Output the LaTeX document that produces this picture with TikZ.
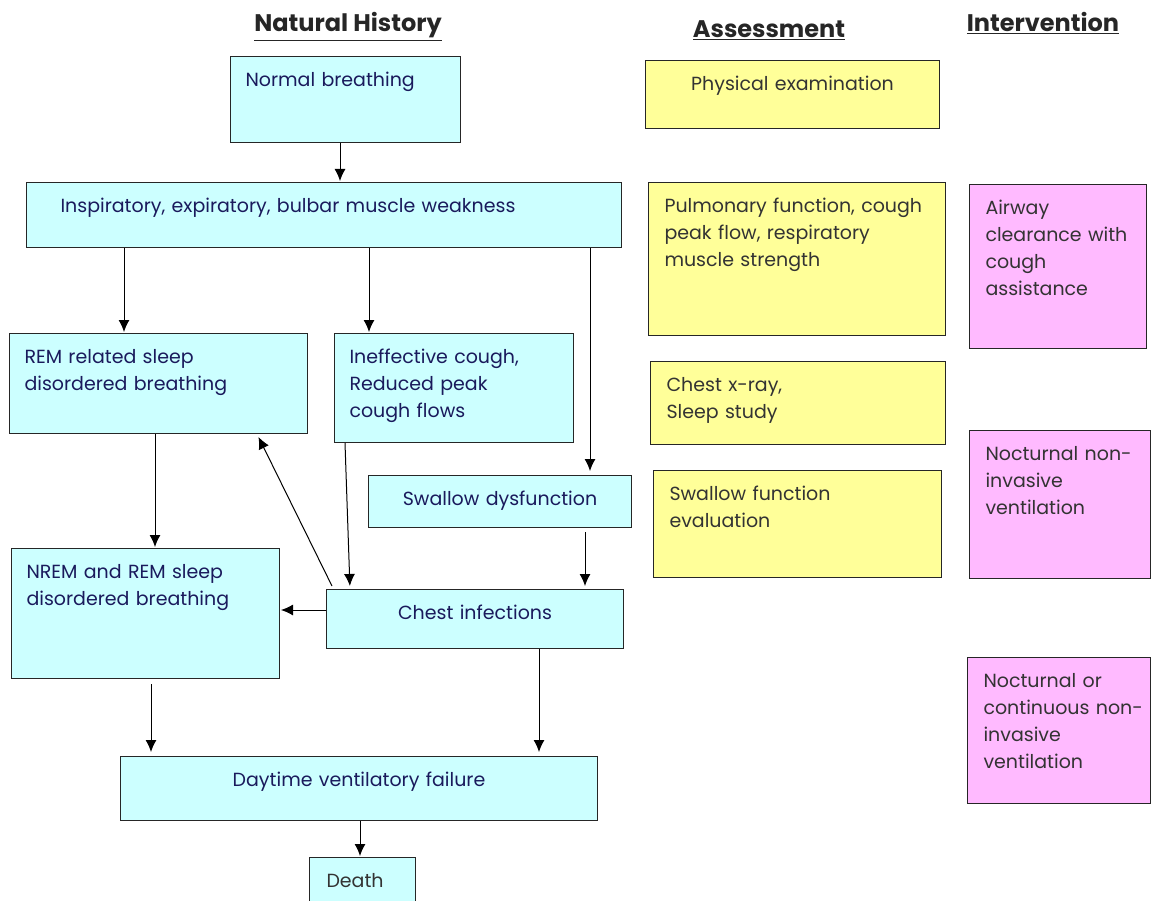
\documentclass[tikz,border=0pt]{standalone}
\usepackage{fontspec}
\setmainfont{Poppins}
\usetikzlibrary{arrows.meta}

\definecolor{cyanbox}{HTML}{CCFFFF}
\definecolor{yellowbox}{HTML}{FFFF99}
\definecolor{pinkbox}{HTML}{FFBAFF}
\definecolor{navytext}{HTML}{1A1A5C}
\definecolor{greytext}{HTML}{333333}

\tikzset{
	box/.style={draw=black!85, line width=1pt, anchor=north west, inner ysep=0pt, inner xsep=15pt,
		text height=30pt, align=left, font=\fontsize{19}{27}\selectfont},
	history/.style={box, fill=cyanbox, text=navytext},
	assess/.style={box, fill=yellowbox, text=greytext},
	interv/.style={box, fill=pinkbox, text=greytext},
	heading/.style={anchor=base, font=\fontsize{24}{28}\selectfont\bfseries, text=black!85},
	arr/.style={line width=1pt, arrows={-{Latex[length=12pt,width=11pt]}}, shorten >=1pt},
}

\begin{document}
\begin{tikzpicture}[x=1pt, y=-1pt]
	\useasboundingbox (0,0) rectangle (1151,901);
	% column headings
	\node[heading] (hnat) at (348,32) {\underline{Natural History}};
	\node[heading] (hass) at (769,38) {\underline{Assessment}};
	\node[heading] (hint) at (1043,32) {\underline{Intervention}};
	% natural history
	\node[history, text width=200pt, text depth=56pt] (normal) at (230,56) {Normal breathing};
	\node[history, inner xsep=34pt, text width=527pt, text depth=35pt] (insp) at (26,182) {Inspiratory, expiratory, bulbar muscle weakness};
	\node[history, text width=268pt, text depth=70pt] (rem) at (9,333) {REM related sleep\\disordered breathing};
	\node[history, text width=209pt, text depth=79pt] (ineff) at (334,333) {Ineffective cough,\\Reduced peak\\cough flows};
	\node[history, align=center, text width=233pt, text depth=22pt] (swal) at (368,475) {Swallow dysfunction};
	\node[history, text width=238pt, text depth=100pt] (nrem) at (11,548) {NREM and REM sleep\\disordered breathing};
	\node[history, align=center, text width=267pt, text depth=29pt] (chest) at (326,589) {Chest infections};
	\node[history, align=center, text width=447pt, text depth=34pt] (day) at (120,756) {Daytime ventilatory failure};
	\node[history, text=greytext, inner xsep=17pt, text width=72pt, text depth=20pt] (death) at (309,857) {Death};
	% assessment
	\node[assess, align=center, text width=264pt, text depth=38pt] (exam) at (645,60) {Physical examination};
	\node[assess, inner xsep=16pt, text width=265pt, text depth=123pt] (pulm) at (648,182) {Pulmonary function, cough\\peak flow, respiratory\\muscle strength};
	\node[assess, inner xsep=16pt, text width=263pt, text depth=53pt] (xray) at (650,361) {Chest x-ray,\\Sleep study};
	\node[assess, inner xsep=16pt, text width=256pt, text depth=77pt] (swev) at (653,470) {Swallow function\\evaluation};
	% intervention
	\node[interv, inner xsep=16pt, text width=145pt, text depth=134pt] (airway) at (969,184) {Airway\\clearance with\\cough\\assistance};
	\node[interv, inner xsep=16pt, text width=149pt, text depth=118pt] (nniv) at (969,430) {\mbox{Nocturnal non-}\\invasive\\ventilation};
	\node[interv, inner xsep=16pt, text width=151pt, text depth=116pt] (cniv) at (967,657) {Nocturnal or\\\mbox{continuous non-}\\invasive\\ventilation};
	% arrows
	\coordinate (remtip) at (258,436);
	\draw[arr] (normal.south -| 340,0) -- (insp.north -| 340,0);
	\draw[arr] (insp.south -| 124,0) -- (rem.north -| 124,0);
	\draw[arr] (insp.south -| 369,0) -- (ineff.north -| 369,0);
	\draw[arr, shorten >=4pt] (insp.south -| 590,0) -- (swal.north -| 590,0);
	\draw[arr] (rem.south -| 155,0) -- (nrem.north -| 155,0);
	\draw[arr, shorten >=3pt] (ineff.south -| 345,0) -- (chest.north -| 350,0);
	\draw[arr] ([xshift=6pt,yshift=3pt]chest.north west) -- (remtip);
	\draw[arr, shorten <=4pt, shorten >=3pt] (swal.south -| 585,0) -- (chest.north -| 585,0);
	\draw[arr, shorten >=1pt] (chest.west |- 0,610) -- (nrem.east |- 0,610);
	\draw[arr, shorten <=5pt, shorten >=4pt] (nrem.south -| 151,0) -- (day.north -| 151,0);
	\draw[arr, shorten >=4pt] (chest.south -| 539,0) -- (day.north -| 539,0);
	\draw[arr] (day.south -| 360,0) -- (death.north -| 360,0);
\end{tikzpicture}
\end{document}
